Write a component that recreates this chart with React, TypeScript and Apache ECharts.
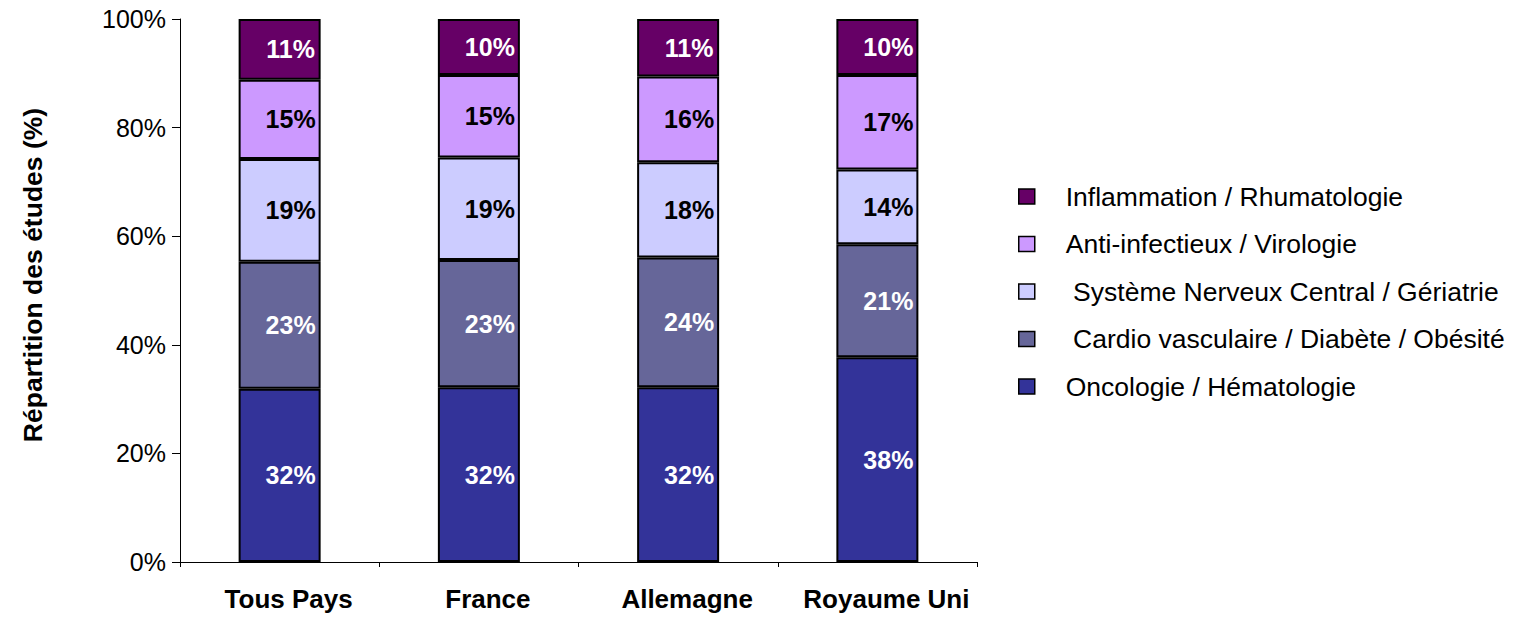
import React, { useEffect, useRef } from "react";
import * as echarts from "echarts";

const categories = ["Tous Pays", "France", "Allemagne", "Royaume Uni"];
const oncologie = [31.9, 32.2, 32.2, 37.7];
const cardio = [23.4, 23.4, 23.9, 20.8];
const snc = [18.9, 18.9, 17.5, 13.8];
const antiInfectieux = [14.6, 15.2, 15.8, 17.4];
const inflammation = [11.2, 10.3, 10.6, 10.3];
const yTicks = [0, 20, 40, 60, 80, 100];

const seriesNames = [
  "Oncologie / Hématologie",
  " Cardio vasculaire / Diabète / Obésité",
  " Système Nerveux Central / Gériatrie",
  "Anti-infectieux / Virologie",
  "Inflammation / Rhumatologie",
];
const seriesData = [oncologie, cardio, snc, antiInfectieux, inflammation];
const colors = ["#333399", "#666699", "#CCCCFF", "#CC99FF", "#660066"];
const labelColors = ["#ffffff", "#ffffff", "#000000", "#000000", "#ffffff"];

const FONT = 'Arial, "Liberation Sans", sans-serif';

export default function App() {
  const ref = useRef<HTMLDivElement>(null);
  useEffect(() => {
    if (!ref.current) return;
    const chart = echarts.init(ref.current, null, { renderer: "svg" });
    chart.setOption({
      animation: false,
      backgroundColor: "#ffffff",
      grid: { left: 180, right: 542, top: 19, bottom: 55 },
      legend: {
        orient: "vertical",
        left: 1013,
        top: 178,
        icon: "rect",
        itemWidth: 16,
        itemHeight: 15,
        itemGap: 20.5,
        data: [...seriesNames].reverse(),
        itemStyle: { borderColor: "#000000", borderWidth: 1.5 },
        textStyle: {
          fontFamily: FONT,
          fontSize: 26.5,
          color: "#000000",
          lineHeight: 25,
          padding: [0, 0, 0, 26],
        },
      },
      xAxis: {
        type: "category",
        data: categories,
        axisLine: { lineStyle: { color: "#000000", width: 1 } },
        axisTick: {
          show: true,
          length: 5,
          interval: 0,
          alignWithLabel: false,
          lineStyle: { color: "#000000" },
        },
        axisLabel: {
          interval: 0,
          fontFamily: FONT,
          fontSize: 26,
          fontWeight: "bold",
          color: "#000000",
          margin: 24,
          padding: [0, 0, 0, 18],
        },
      },
      yAxis: {
        type: "value",
        min: yTicks[0],
        max: yTicks[yTicks.length - 1],
        interval: 20,
        axisLine: { show: true, lineStyle: { color: "#000000", width: 1 } },
        axisTick: { show: true, length: 8, lineStyle: { color: "#000000" } },
        splitLine: { show: false },
        axisLabel: {
          fontFamily: FONT,
          fontSize: 25,
          color: "#000000",
          margin: 14,
          formatter: "{value}%",
        },
      },
      graphic: [
        {
          type: "text",
          x: 33,
          y: 275,
          rotation: Math.PI / 2,
          style: {
            text: "Répartition des études (%)",
            fontFamily: FONT,
            fontSize: 26.5,
            fontWeight: "bold",
            fill: "#000000",
            textAlign: "center",
            textVerticalAlign: "middle",
          },
        },
      ],
      series: seriesNames.map((name, i) => ({
        name,
        type: "bar",
        stack: "total",
        barWidth: 82,
        data: seriesData[i],
        itemStyle: { color: colors[i], borderColor: "#000000", borderWidth: 2 },
        label: {
          show: true,
          position: "inside",
          offset: [11, 0],
          fontFamily: FONT,
          fontSize: 25,
          fontWeight: "bold",
          color: labelColors[i],
          formatter: (p: any) => Math.round(p.value) + "%",
        },
      })),
    });
    return () => chart.dispose();
  }, []);
  return (
    <div
      ref={ref}
      style={{ position: "fixed", left: 0, top: 0, width: 1519, height: 617 }}
    />
  );
}
